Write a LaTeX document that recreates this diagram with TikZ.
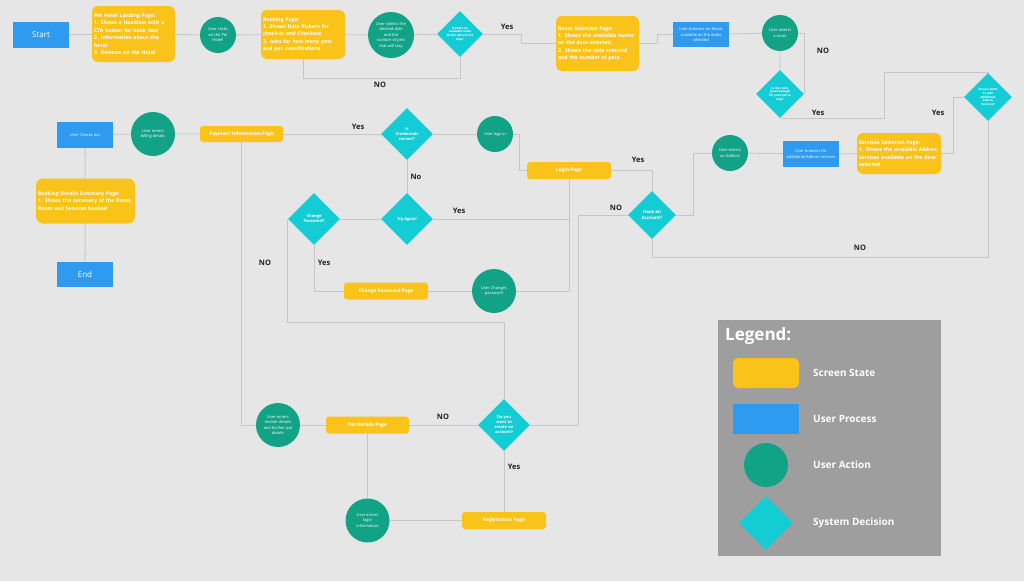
\documentclass[tikz,border=0pt]{standalone}
\usepackage{fontspec}
\setmainfont{Open Sans}
\usetikzlibrary{shapes.geometric, positioning}

\definecolor{bgGray}{HTML}{E6E6E6}
\definecolor{lineGray}{HTML}{C6C6C6}
\definecolor{scrYellow}{HTML}{F9C31A}
\definecolor{procBlue}{HTML}{2F9BF0}
\definecolor{actGreen}{HTML}{12A386}
\definecolor{decCyan}{HTML}{14CCD4}
\definecolor{legendGray}{HTML}{9E9E9E}
\definecolor{answerInk}{HTML}{222222}

\pgfdeclarelayer{bg}
\pgfsetlayers{bg,main}

\tikzset{
  screen/.style={fill=scrYellow, text=white, rounded corners=6pt, align=left, inner sep=2pt,
    font=\bfseries\fontsize{5.1}{7.4}\selectfont},
  screenbar/.style={fill=scrYellow, text=white, rounded corners=3pt, inner sep=0pt,
    minimum width=84pt, minimum height=17pt, font=\bfseries\fontsize{4.8}{6}\selectfont},
  process/.style={fill=procBlue, text=white, align=center, inner sep=1pt,
    minimum width=56pt, minimum height=26pt, font=\fontsize{4}{5.5}\selectfont},
  action/.style={circle, fill=actGreen, text=white, align=center, inner sep=0pt,
    font=\fontsize{4}{5.5}\selectfont},
  decision/.style={diamond, aspect=1, fill=decCyan, text=white, align=center, inner sep=0pt,
    minimum width=52pt, minimum height=52pt, font=\bfseries\fontsize{4}{5}\selectfont},
  tiny/.style={font=\bfseries\fontsize{3}{3.8}\selectfont},
  link/.style={draw=lineGray, line width=0.8pt},
  answer/.style={text=answerInk, inner sep=0pt, font=\bfseries\fontsize{7.5}{9}\selectfont},
  legendtext/.style={text=white, anchor=west, inner sep=0pt, font=\bfseries\fontsize{10}{12}\selectfont},
}

\begin{document}
\begin{tikzpicture}[x=1pt, y=-1pt]
    \useasboundingbox (0,0) rectangle (1024,581);

    % Top row: landing to room selection
    \node[process, font=\fontsize{8}{9}\selectfont] (start) at (41,35) {Start};
    \node[screen, text width=79pt, minimum height=56pt] (landing) at (133.5,34)
        {Pet Hotel Landing Page:\\1. Shows a Headline with a\\CTA button for book now\\2. Information about the\\hotel\\3. Reviews on the Hotel};
    \node[action, minimum size=36pt] (clicks) at (218,35) {User clicks\\on the Pet\\Hotel!};
    \node[screen, text width=80pt, minimum height=49pt] (booking) at (303,34.5)
        {Booking Page:\\1. Shows Date Pickers for\\check-in and Checkout\\2. Asks for how many pets\\and pet classifications};
    \node[action, minimum size=46pt] (dates) at (391,35) {User selects the\\desired date\\and the\\number of pets\\that will stay};
    \node[decision, tiny, minimum width=46pt, minimum height=46pt] (avail) at (460,34)
        {Is there an\\available room\\on the date of the\\stay?};
    \node[screen, text width=79pt, minimum height=55pt] (roompage) at (597.5,43.5)
        {Room Selection Page:\\1. Shows the available rooms\\on the date selected.\\2. Shows the date selected\\and the number of pets.};
    \node[process, minimum height=25pt] (browseroom) at (701,34.5) {User browses on Room\\available on the dates\\selected};
    \node[action, minimum size=36pt] (selroom) at (780,33) {User selects\\a room};
    \node[decision, tiny, minimum width=48pt, minimum height=48pt] (roomok) at (780,94)
        {Is the room\\great enough\\for your pet to\\stay?};

    % Add-on services
    \node[decision, tiny, minimum width=48pt, minimum height=48pt] (addon) at (988,97)
        {Do you want\\to add\\additional\\Add-on\\Services?};
    \node[screen, text width=80pt, minimum height=41pt] (services) at (899,153.5)
        {Services Selection Page:\\1. Shows the available Add-on\\services available on the date\\selected};
    \node[process] (browseaddon) at (811,154) {User browses for\\additional Add-on services};
    \node[action, minimum size=36pt] (seladdon) at (730,153) {User selects\\an Addons};

    % Login and password
    \node[decision, font=\bfseries\fontsize{4.5}{5.5}\selectfont, minimum width=48pt, minimum height=48pt] (account) at (652,215)
        {Have an\\Account?};
    \node[screenbar] (login) at (569,170.5) {Login Page};
    \node[action, minimum size=36pt] (logs) at (495,134) {User logs in};
    \node[decision] (creds) at (407,134) {Is\\Credentials\\correct?};
    \node[decision] (retry) at (407,219) {Try Again!};
    \node[decision] (changepw) at (314,219) {Change\\Password?};
    \node[screenbar] (cpwpage) at (386,291) {Change Password Page};
    \node[action, minimum size=44pt] (changed) at (494,291) {User Changes\\password};

    % Checkout column
    \node[screenbar, minimum width=83pt, minimum height=16pt] (payment) at (241.5,134) {Payment Information Page};
    \node[action, minimum size=44pt] (billing) at (153,134) {User enters\\billing details};
    \node[process] (checkout) at (85,134.5) {User Checks out};
    \node[screen, rounded corners=7pt, text width=95pt, minimum height=45pt] (summary) at (85.5,201)
        {Booking Details Summary Page:\\1. Shows the summary of the Dates,\\Room and Services booked};
    \node[process, minimum height=25pt, font=\fontsize{8}{9}\selectfont] (endbox) at (85,274.5) {End};

    % Registration
    \node[action, minimum size=44pt] (petinfo) at (278,425) {User enters\\his/her details\\and his/her pet\\details};
    \node[screenbar, minimum width=83pt] (petpage) at (367.5,425) {Pet Details Page};
    \node[decision] (create) at (504,425) {Do you\\want to\\create an\\account?};
    \node[screenbar] (register) at (504,520.5) {Registration Page};
    \node[action, minimum size=44pt] (loginfo) at (367.5,520.5) {User enters\\login\\information};

    % Answers
    \node[answer] (yAvail) at (507,27) {Yes};
    \node[answer] (nAvail) at (380,85) {NO};
    \node[answer] (nRoom) at (823,51) {NO};
    \node[answer] (yRoom) at (818,113) {Yes};
    \node[answer] (yAddon) at (938,113) {Yes};
    \node[answer] (nAddon) at (860,248) {NO};
    \node[answer] (yAccount) at (638,160) {Yes};
    \node[answer] (nAccount) at (616,208) {NO};
    \node[answer] (yPay) at (358,127) {Yes};
    \node[answer] (nCreds) at (416,177) {No};
    \node[answer] (yRetry) at (459,211) {Yes};
    \node[answer] (yChange) at (324,263) {Yes};
    \node[answer] (nChange) at (265,263) {NO};
    \node[answer] (nCreate) at (443,417) {NO};
    \node[answer] (yCreate) at (514,467) {Yes};

    % Legend
    \node[fill=legendGray, anchor=north west, inner sep=0pt, minimum width=223pt, minimum height=236pt] (legend) at (718,320) {};
    \node[text=white, anchor=west, inner sep=0pt, font=\bfseries\fontsize{17}{20}\selectfont] (legendtitle) at (725,336) {Legend:};
    \node[fill=scrYellow, rounded corners=5pt, minimum width=66pt, minimum height=30pt] (keyscreen) at (766,373) {};
    \node[fill=procBlue, minimum width=66pt, minimum height=30pt] (keyprocess) at (766,419) {};
    \node[circle, fill=actGreen, minimum size=44pt] (keyaction) at (766,465) {};
    \node[diamond, aspect=1, fill=decCyan, inner sep=0pt, minimum width=54pt, minimum height=54pt] (keydecision) at (766,523) {};
    \node[legendtext] (lblscreen) at (813,373) {Screen State};
    \node[legendtext] (lblprocess) at (813,419) {User Process};
    \node[legendtext] (lblaction) at (813,465) {User Action};
    \node[legendtext] (lbldecision) at (813,523) {System Decision};

    \begin{pgfonlayer}{bg}
        \fill[bgGray] (0,0) rectangle (1024,581);

        % From start to room selection
        \draw[link] (start) -- (landing) -- (clicks) -- (booking) -- (dates) -- (avail);
        \draw[link] (booking.south) -- ++(0,19) -| (avail.south);
        \draw[link] (avail.east) -- ++(38,0) |- (roompage.west);
        \draw[link] (roompage.east) -- ++(18,0) |- (browseroom.west);
        \draw[link] (browseroom) -- (selroom) -- (roomok);
        \draw[link] (roomok.east) |- (selroom.east);
        \draw[link] (roomok.south) -- ++(104,0) -- ++(0,-46) -| (addon.north);

        % Add-on services
        \draw[link] (services.east) -- ++(12,0) |- (addon.west);
        \draw[link] (services) -- (browseaddon) -- (seladdon);
        \draw[link] (seladdon.west) -- ++(-18,0) |- (account.east);
        \draw[link] (addon.south) -- ++(0,136) -| (account.south);

        % Login
        \draw[link] (account.north) |- (login.east);
        \draw[link] (login.west) -- ++(-7,0) |- (logs.east);
        \draw[link] (payment) -- (creds) -- (logs);
        \draw[link] (creds) -- (retry) -- (changepw);
        \draw[link] (login.south) |- (retry.east);
        \draw[link] (login.south) |- (changed.east);
        \draw[link] (changepw.south) |- (cpwpage.west);
        \draw[link] (cpwpage) -- (changed);
        \draw[link] (changepw.west) -- ++(0,103) -| (create.north);
        \draw[link] (account.west) -- ++(-49,0) |- (create.east);

        % Checkout column
        \draw[link] (checkout) -- (billing) -- (payment);
        \draw[link] (checkout) -- (summary) -- (endbox);

        % Registration
        \draw[link] (payment.south) |- (petpage.west);
        \draw[link] (petpage) -- (create) -- (register) -- (loginfo);
        \draw[link] (petpage) -- (loginfo);
    \end{pgfonlayer}
\end{tikzpicture}
\end{document}
